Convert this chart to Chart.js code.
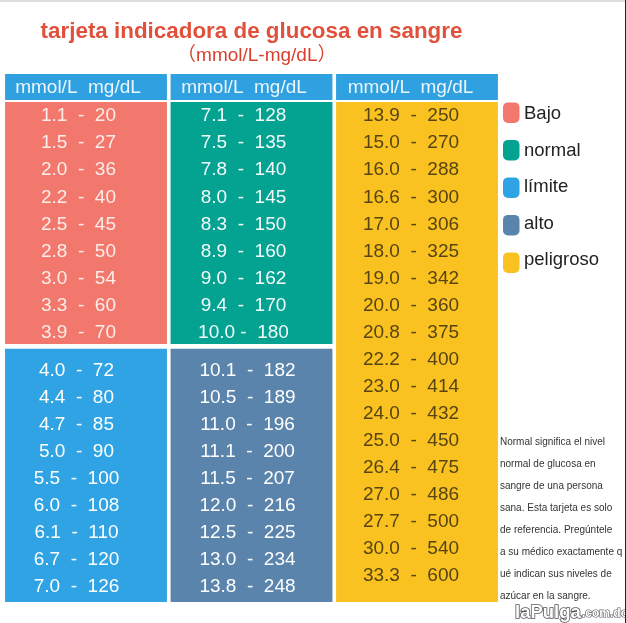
<!DOCTYPE html>
<html>
<head>
<meta charset="utf-8">
<style>
html, body { margin: 0; padding: 0; background: #fff; }
canvas { display: block; }
</style>
<script src="https://cdn.jsdelivr.net/npm/chart.js@4"></script>
</head>
<body>
<canvas id="glucoseChart" width="626" height="623"></canvas>
<script>
const columns = ['col1', 'col2', 'col3'];
const headerLabel = 'mmol/L  mg/dL';

const bajoMmol = ['1.1', '1.5', '2.0', '2.2', '2.5', '2.8', '3.0', '3.3', '3.9'];
const bajoMg = [20, 27, 36, 40, 45, 50, 54, 60, 70];
const normalMmol = ['7.1', '7.5', '7.8', '8.0', '8.3', '8.9', '9.0', '9.4', '10.0'];
const normalMg = [128, 135, 140, 145, 150, 160, 162, 170, 180];
const limiteMmol = ['4.0', '4.4', '4.7', '5.0', '5.5', '6.0', '6.1', '6.7', '7.0'];
const limiteMg = [72, 80, 85, 90, 100, 108, 110, 120, 126];
const altoMmol = ['10.1', '10.5', '11.0', '11.1', '11.5', '12.0', '12.5', '13.0', '13.8'];
const altoMg = [182, 189, 196, 200, 207, 216, 225, 234, 248];
const peligrosoMmol = ['13.9', '15.0', '16.0', '16.6', '17.0', '18.0', '19.0', '20.0', '20.8', '22.2', '23.0', '24.0', '25.0', '26.4', '27.0', '27.7', '30.0', '33.3'];
const peligrosoMg = [250, 270, 288, 300, 306, 325, 342, 360, 375, 400, 414, 432, 450, 475, 486, 500, 540, 600];

const legendLabels = ['Bajo', 'normal', 'límite', 'alto', 'peligroso'];
const noteLines = [
    'Normal significa el nivel',
    'normal de glucosa en',
    'sangre de una persona',
    'sana. Esta tarjeta es solo',
    'de referencia. Pregúntele',
    'a su médico exactamente q',
    'ué indican sus niveles de',
    'azúcar en la sangre.'
];

const FONT = '"Liberation Sans", Arial, sans-serif';
const colors = {
    header: '#2FA0E0',
    bajo: '#F2786D',
    normal: '#03A291',
    limite: '#2FA3E3',
    alto: '#5A84AC',
    peligroso: '#FAC220'
};

// table blocks, in row units on the y axis
const blocks = [
    { mmol: bajoMmol, mg: bajoMg, col: 0, first: 0, shift: -7.5, color: '#FBEDEA' },
    { mmol: normalMmol, mg: normalMg, col: 1, first: 0, shift: -8, color: '#F2FBFA' },
    { mmol: limiteMmol, mg: limiteMg, col: 0, first: 9.4, shift: -9.5, color: '#FFFFFF' },
    { mmol: altoMmol, mg: altoMg, col: 1, first: 9.4, shift: -4, color: '#FFFFFF' },
    { mmol: peligrosoMmol, mg: peligrosoMg, col: 2, first: 0, shift: -6, color: '#574411' }
];

function bar(col, span, color) {
    const data = columns.map((c, i) => (i === col ? span : null));
    return { data: data, backgroundColor: color, barPercentage: 0.978, categoryPercentage: 1, grouped: false };
}

// text, legend and the bits around the table
const cardPlugin = {
    id: 'card',
    afterDatasetsDraw(chart) {
        const ctx = chart.ctx;
        const x = chart.scales.x;
        const y = chart.scales.y;
        ctx.save();

        ctx.fillStyle = '#DDDDDD';
        ctx.fillRect(0, 0, 626, 2);

        ctx.textBaseline = 'middle';
        ctx.textAlign = 'center';
        ctx.fillStyle = '#EAF6FD';
        ctx.font = '19px ' + FONT;
        const headerShift = [-8, -7.5, -6.5];
        columns.forEach((c, i) => {
            ctx.fillText(headerLabel, x.getPixelForValue(i) + headerShift[i], y.getPixelForValue(-0.99));
        });

        blocks.forEach(b => {
            ctx.fillStyle = b.color;
            b.mmol.forEach((m, i) => {
                const gap = m === '10.0' ? ' -  ' : '  -  ';
                ctx.fillText(m + gap + b.mg[i], x.getPixelForValue(b.col) + b.shift, y.getPixelForValue(b.first + i + 0.04));
            });
        });

        const swatches = [colors.bajo, colors.normal, colors.limite, colors.alto, colors.peligroso];
        ctx.textAlign = 'left';
        ctx.font = '18.5px ' + FONT;
        legendLabels.forEach((label, i) => {
            const cy = 112.7 + i * 37.5;
            ctx.fillStyle = swatches[i];
            ctx.beginPath();
            ctx.roundRect(503, cy - 10.3, 16.5, 20.6, 5);
            ctx.fill();
            ctx.fillStyle = '#222222';
            ctx.fillText(label, 524, 114 + i * 36.5);
        });

        ctx.font = '10px ' + FONT;
        ctx.fillStyle = '#333333';
        noteLines.forEach((line, i) => {
            ctx.fillText(line, 500, 442 + i * 22);
        });

        ctx.font = 'bold 18.5px ' + FONT;
        ctx.lineWidth = 1.6;
        ctx.strokeStyle = '#555555';
        ctx.strokeText('laPulga', 515, 613);
        ctx.fillStyle = '#FFFFFF';
        ctx.fillText('laPulga', 515, 613);
        ctx.font = 'bold 12px ' + FONT;
        ctx.lineWidth = 1.2;
        ctx.strokeText('.com.do', 582, 614);
        ctx.fillText('.com.do', 582, 614);

        // dark edge on the right of the photo
        ctx.fillStyle = '#222222';
        ctx.fillRect(625, 0, 1, 623);

        ctx.restore();
    }
};

new Chart(document.getElementById('glucoseChart'), {
    type: 'bar',
    data: {
        labels: columns,
        datasets: [
            bar(0, [-1.515, -0.55], colors.header),
            bar(1, [-1.515, -0.55], colors.header),
            bar(2, [-1.515, -0.55], colors.header),
            bar(0, [-0.48, 8.46], colors.bajo),
            bar(1, [-0.48, 8.46], colors.normal),
            bar(0, [8.64, 17.99], colors.limite),
            bar(1, [8.64, 17.99], colors.alto),
            bar(2, [-0.48, 17.99], colors.peligroso)
        ]
    },
    options: {
        responsive: false,
        animation: false,
        layout: { padding: { left: 3.25, right: 126.25, top: 0, bottom: 10 } },
        plugins: {
            legend: { display: false },
            tooltip: { enabled: false },
            title: {
                display: true,
                fullSize: false,
                text: 'tarjeta indicadora de glucosa en sangre',
                color: '#E0503A',
                font: { family: FONT, size: 22.4, weight: 'bold', lineHeight: 1.2 },
                padding: { top: 18, bottom: 0 }
            },
            subtitle: {
                display: true,
                fullSize: false,
                text: '  （mmol/L-mg/dL）',
                color: '#D9412F',
                font: { family: '"Liberation Sans", "Noto Sans CJK SC", sans-serif', size: 19, lineHeight: 1.1 },
                padding: { top: 0, bottom: 5.9 }
            }
        },
        scales: {
            x: { display: false, stacked: false },
            y: { display: false, reverse: true, min: -1.6, max: 18.4 }
        }
    },
    plugins: [cardPlugin]
});
</script>
</body>
</html>
